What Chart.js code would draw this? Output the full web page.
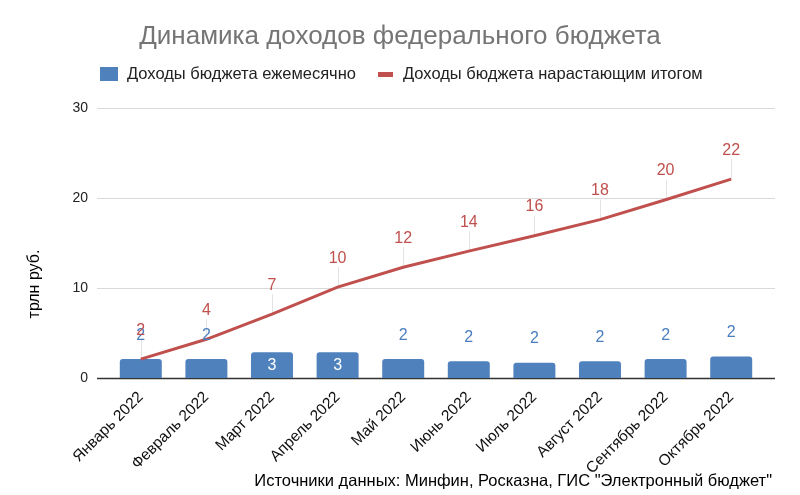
<!DOCTYPE html>
<html>
<head>
<meta charset="utf-8">
<script src="https://cdn.jsdelivr.net/npm/chart.js@4"></script>
<style>
  html, body { margin: 0; padding: 0; background: #fff; }
  #wrap { width: 800px; height: 495px; }
</style>
</head>
<body>
<div id="wrap"><canvas id="budgetChart" width="800" height="495"></canvas></div>
<script>
const months = ['Январь 2022', 'Февраль 2022', 'Март 2022', 'Апрель 2022', 'Май 2022',
  'Июнь 2022', 'Июль 2022', 'Август 2022', 'Сентябрь 2022', 'Октябрь 2022'];
const monthly = [2.1, 2.1, 2.85, 2.85, 2.1, 1.85, 1.7, 1.85, 2.1, 2.4];
const cumulative = [2.1, 4.3, 7.1, 10.1, 12.3, 14.1, 15.8, 17.6, 19.8, 22.1];
const yTicks = [0, 10, 20, 30];

const BLUE = '#4f81bd';
const RED = '#c0504d';
const FONT = "'Liberation Sans', Arial, sans-serif";

// grid lines stretch a bit past the bars, like in the original sheet chart
const gridPlugin = {
  id: 'grid',
  beforeDatasetsDraw(chart) {
    const ctx = chart.ctx;
    const area = chart.chartArea;
    const y = chart.scales.y;
    ctx.save();
    yTicks.forEach(t => {
      const py = Math.round(y.getPixelForValue(t)) + 0.5;
      ctx.beginPath();
      ctx.strokeStyle = t === 0 ? '#333333' : '#d9d9d9';
      ctx.lineWidth = t === 0 ? 1.5 : 1;
      ctx.moveTo(area.left - 11, py);
      ctx.lineTo(area.right + 11, py);
      ctx.stroke();
    });
    // leader lines for the running total labels
    const meta = chart.getDatasetMeta(1);
    ctx.strokeStyle = '#e3e3e3';
    ctx.lineWidth = 1;
    meta.data.forEach(pt => {
      const x = Math.round(pt.x) + 0.5;
      ctx.beginPath();
      ctx.moveTo(x, pt.y);
      ctx.lineTo(x, pt.y - 20);
      ctx.stroke();
    });
    ctx.restore();
  }
};

const labelPlugin = {
  id: 'valueLabels',
  afterDatasetsDraw(chart) {
    const ctx = chart.ctx;
    ctx.save();
    ctx.font = '16px ' + FONT;
    ctx.textAlign = 'center';
    ctx.textBaseline = 'middle';
    chart.getDatasetMeta(0).data.forEach((bar, i) => {
      const v = Math.round(monthly[i]);
      if (v >= 3) {
        ctx.fillStyle = '#ffffff';
        ctx.fillText(v, bar.x, (bar.y + bar.base) / 2);
      } else {
        ctx.fillStyle = '#4a7ebf';
        ctx.fillText(v, bar.x, bar.y - 24);
      }
    });
    chart.getDatasetMeta(1).data.forEach((pt, i) => {
      ctx.fillStyle = RED;
      ctx.fillText(Math.round(cumulative[i]), pt.x, pt.y - 29);
    });
    ctx.restore();
  }
};

const textPlugin = {
  id: 'texts',
  afterDraw(chart) {
    const ctx = chart.ctx;
    ctx.save();
    ctx.textBaseline = 'middle';
    // title
    ctx.fillStyle = '#757575';
    ctx.font = '26px ' + FONT;
    ctx.textAlign = 'center';
    ctx.fillText('Динамика доходов федерального бюджета', 400, 37);
    // legend
    ctx.font = '16.5px ' + FONT;
    ctx.textAlign = 'left';
    ctx.fillStyle = BLUE;
    ctx.fillRect(100, 67, 18, 14);
    ctx.fillStyle = '#222222';
    ctx.fillText('Доходы бюджета ежемесячно', 127, 74);
    ctx.fillStyle = RED;
    ctx.fillRect(378, 72, 15, 5);
    ctx.fillStyle = '#222222';
    ctx.fillText('Доходы бюджета нарастающим итогом', 403, 74);
    // axis title
    ctx.save();
    ctx.translate(35, 284);
    ctx.rotate(-Math.PI / 2);
    ctx.textAlign = 'center';
    ctx.fillStyle = '#000000';
    ctx.font = '16px ' + FONT;
    ctx.fillText('трлн руб.', 0, 0);
    ctx.restore();
    // source note
    ctx.textAlign = 'right';
    ctx.fillStyle = '#000000';
    ctx.font = '16.5px ' + FONT;
    ctx.fillText('Источники данных: Минфин, Росказна, ГИС "Электронный бюджет"', 772, 481);
    ctx.restore();
  }
};

new Chart(document.getElementById('budgetChart'), {
  data: {
    labels: months,
    datasets: [
      {
        type: 'bar',
        label: 'Доходы бюджета ежемесячно',
        data: monthly,
        backgroundColor: BLUE,
        borderRadius: { topLeft: 3, topRight: 3 },
        borderSkipped: 'bottom',
        barPercentage: 0.64,
        categoryPercentage: 1,
        order: 1
      },
      {
        type: 'line',
        label: 'Доходы бюджета нарастающим итогом',
        data: cumulative,
        borderColor: RED,
        borderWidth: 3,
        pointRadius: 0,
        tension: 0,
        order: 0
      }
    ]
  },
  options: {
    responsive: false,
    animation: false,
    layout: { padding: { top: 108, left: 0, right: 36, bottom: 0 } },
    plugins: {
      legend: { display: false },
      title: { display: false },
      tooltip: { enabled: false }
    },
    scales: {
      x: {
        grid: { display: false },
        border: { display: false },
        afterFit: s => { s.height = 117; },
        ticks: {
          color: '#111111',
          font: { family: FONT, size: 15.5 },
          minRotation: 45,
          maxRotation: 45,
          padding: 2
        }
      },
      y: {
        min: 0,
        max: 30,
        grid: { display: false },
        border: { display: false },
        afterFit: s => { s.width = 108; },
        afterBuildTicks: s => { s.ticks = yTicks.map(v => ({ value: v })); },
        ticks: {
          color: '#222222',
          font: { family: FONT, size: 14 },
          padding: 12
        }
      }
    }
  },
  plugins: [gridPlugin, labelPlugin, textPlugin]
});
</script>
</body>
</html>
